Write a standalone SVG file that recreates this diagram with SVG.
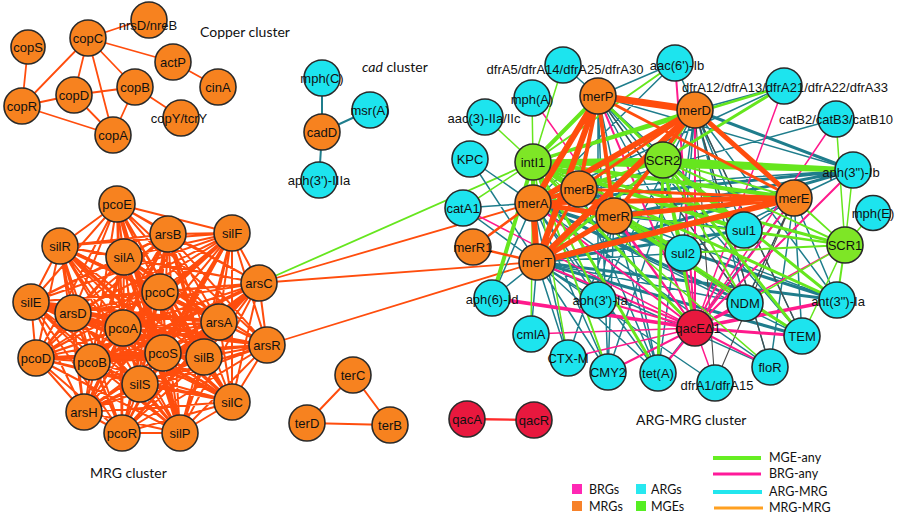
<svg xmlns="http://www.w3.org/2000/svg" width="900" height="518" viewBox="0 0 900 518">
<style>
.bg{fill:#fff}
.n circle{stroke:#2a2a2a;stroke-width:1.6}
.o circle{fill:#f7821f}
.c circle{fill:#1de4ee}
.g circle{fill:#7ee626}
.r circle{fill:#e8183e}
.n text{font-family:"Liberation Sans",Arial,sans-serif;font-size:13px;fill:#111;text-anchor:middle}
.cl{font-family:Lato,"Liberation Sans",sans-serif;font-size:14px;fill:#111}
.lg{font-family:Lato,"Liberation Sans",sans-serif;font-size:12.5px;fill:#111}
.e{fill:none;stroke-linecap:round;stroke-linejoin:round}
.mm{stroke:#ff4d0d}
.am{stroke:#1f7d8c}
.ge{stroke:#66e61e}
.br{stroke:#ff1a8c}
.gy{stroke:#4a4a4a}
</style>
<rect class="bg" width="900" height="518"/>
<g id="connectors">
<!-- copper -->
<path class="e mm" stroke-width="1.8" d="M28 47L22 106M88 38L148 18M88 38L173 62M173 62L218 87M88 38L22 106M88 38L74 95M88 38L113 135M88 38L135 87M74 95L135 87M22 106L74 95M22 106L113 135M74 95L113 135M135 87L113 135M135 87L182 118"/>
<!-- cad -->
<path class="e am" stroke-width="2" d="M322 78L322 132M370 110L322 132M322 132L319 180"/>
<!-- ter / qac -->
<path class="e mm" stroke-width="2" d="M353 375L307 423M353 375L390 425M307 423L390 425"/>
<path class="e" stroke="#ff2a2a" stroke-width="2.4" d="M467 419L534 420"/>
<!-- MRG cluster complete graph -->
<path class="e mm" stroke-width="2" d="M117 204L60 246 117 204 168 234 117 204 232 233 117 204 124 257 117 204 160 292 117 204 259 283 117 204 31 302 117 204 73 313 117 204 123 328 117 204 219 322 117 204 267 345 117 204 36 358 117 204 92 362 117 204 163 353 117 204 204 357 117 204 140 384 117 204 232 402 117 204 84 412 117 204 122 433 117 204 180 433
M60 246L168 234 60 246 232 233 60 246 124 257 60 246 160 292 60 246 259 283 60 246 31 302 60 246 73 313 60 246 123 328 60 246 219 322 60 246 267 345 60 246 36 358 60 246 92 362 60 246 163 353 60 246 204 357 60 246 140 384 60 246 232 402 60 246 84 412 60 246 122 433 60 246 180 433
M168 234L232 233 168 234 124 257 168 234 160 292 168 234 259 283 168 234 31 302 168 234 73 313 168 234 123 328 168 234 219 322 168 234 267 345 168 234 36 358 168 234 92 362 168 234 163 353 168 234 204 357 168 234 140 384 168 234 232 402 168 234 84 412 168 234 122 433 168 234 180 433
M232 233L124 257 232 233 160 292 232 233 259 283 232 233 31 302 232 233 73 313 232 233 123 328 232 233 219 322 232 233 267 345 232 233 36 358 232 233 92 362 232 233 163 353 232 233 204 357 232 233 140 384 232 233 232 402 232 233 84 412 232 233 122 433 232 233 180 433
M124 257L160 292 124 257 259 283 124 257 31 302 124 257 73 313 124 257 123 328 124 257 219 322 124 257 267 345 124 257 36 358 124 257 92 362 124 257 163 353 124 257 204 357 124 257 140 384 124 257 232 402 124 257 84 412 124 257 122 433 124 257 180 433
M160 292L259 283 160 292 31 302 160 292 73 313 160 292 123 328 160 292 219 322 160 292 267 345 160 292 36 358 160 292 92 362 160 292 163 353 160 292 204 357 160 292 140 384 160 292 232 402 160 292 84 412 160 292 122 433 160 292 180 433
M259 283L31 302 259 283 73 313 259 283 123 328 259 283 219 322 259 283 267 345 259 283 36 358 259 283 92 362 259 283 163 353 259 283 204 357 259 283 140 384 259 283 232 402 259 283 84 412 259 283 122 433 259 283 180 433
M31 302L73 313 31 302 123 328 31 302 219 322 31 302 267 345 31 302 36 358 31 302 92 362 31 302 163 353 31 302 204 357 31 302 140 384 31 302 232 402 31 302 84 412 31 302 122 433 31 302 180 433
M73 313L123 328 73 313 219 322 73 313 267 345 73 313 36 358 73 313 92 362 73 313 163 353 73 313 204 357 73 313 140 384 73 313 232 402 73 313 84 412 73 313 122 433 73 313 180 433
M123 328L219 322 123 328 267 345 123 328 36 358 123 328 92 362 123 328 163 353 123 328 204 357 123 328 140 384 123 328 232 402 123 328 84 412 123 328 122 433 123 328 180 433
M219 322L267 345 219 322 36 358 219 322 92 362 219 322 163 353 219 322 204 357 219 322 140 384 219 322 232 402 219 322 84 412 219 322 122 433 219 322 180 433
M267 345L36 358 267 345 92 362 267 345 163 353 267 345 204 357 267 345 140 384 267 345 232 402 267 345 84 412 267 345 122 433 267 345 180 433
M36 358L92 362 36 358 163 353 36 358 204 357 36 358 140 384 36 358 232 402 36 358 84 412 36 358 122 433 36 358 180 433
M92 362L163 353 92 362 204 357 92 362 140 384 92 362 232 402 92 362 84 412 92 362 122 433 92 362 180 433
M163 353L204 357 163 353 140 384 163 353 232 402 163 353 84 412 163 353 122 433 163 353 180 433
M204 357L140 384 204 357 232 402 204 357 84 412 204 357 122 433 204 357 180 433
M140 384L232 402 140 384 84 412 140 384 122 433 140 384 180 433
M232 402L84 412 232 402 122 433 232 402 180 433
M84 412L122 433 84 412 180 433
M122 433L180 433"/>
<path class="e mm" stroke-width="3.6" d="M160 292L219 322M160 292L204 357M123 328L163 353M124 257L219 322M168 234L204 357M117 204L163 353M60 246L219 322M31 302L219 322M36 358L204 357M73 313L232 402M232 233L92 362M259 283L92 362M168 234L84 412M124 257L180 433M267 345L123 328M60 246L232 402M117 204L180 433M232 233L140 384M31 302L163 353M259 283L140 384"/>
<!-- inter-cluster -->
<path class="e mm" stroke-width="1.8" d="M259 283L533 203M259 283L537 262M267 345L537 262"/>
<path class="e ge" stroke-width="1.8" d="M259 283L533 162"/>
<!-- ARG-MRG: teal -->
<path class="e am" stroke-width="1.5" d="M533 203L470 159 533 203 463 208 533 203 675 63 533 203 744 230 533 203 802 336 533 203 492 298 533 203 598 300 533 203 658 373 533 203 608 372 533 203 568 358 533 203 770 367 533 203 784 86 533 203 836 119
M537 262L463 208 537 262 492 298 537 262 598 300 537 262 531 334 537 262 568 358 537 262 608 372 537 262 658 373 537 262 683 253 537 262 745 303 537 262 770 367 537 262 715 383 537 262 470 159
M598 96L675 63 598 96 563 65 598 96 744 230 598 96 683 253 598 96 745 303 598 96 802 336 598 96 658 373 598 96 853 170 598 96 598 300 598 96 608 372
M695 110L675 63 695 110 784 86 695 110 744 230 695 110 683 253 695 110 745 303 695 110 802 336 695 110 658 373 695 110 837 300 695 110 770 367 695 110 608 372 695 110 598 300
M614 216L744 230 614 216 683 253 614 216 745 303 614 216 802 336 614 216 658 373 614 216 608 372 614 216 837 300 614 216 598 300 614 216 568 358
M794 198L744 230 794 198 683 253 794 198 745 303 794 198 802 336 794 198 853 170 794 198 837 300 794 198 658 373 794 198 770 367
M579 189L853 170 579 189 683 253 579 189 658 373 579 189 745 303"/>
<path class="e am" stroke-width="3" d="M533 203L853 170M533 203L683 253M533 203L745 303M533 203L837 300M537 262L744 230M537 262L853 170M537 262L837 300M537 262L802 336M695 110L853 170M614 216L853 170"/>
<path class="e gy" stroke-width="1.1" d="M695 110L770 367M695 110L715 383M794 198L745 303M794 198L715 383M598 96L745 303M695 110L802 336"/>
<!-- BRG-any -->
<path class="e br" stroke-width="1.5" d="M695 328L784 86M695 328L836 119M695 328L532 98M695 328L463 208M695 328L531 334M695 328L568 358M695 328L715 383M695 328L845 245"/>
<path class="e br" stroke-width="2" d="M695 328L598 96 695 328 695 110 695 328 675 63 695 328 853 170 695 328 598 300 695 328 608 372 695 328 658 373 695 328 770 367 695 328 744 230 695 328 533 203 695 328 537 262 695 328 614 216 695 328 794 198"/>
<path class="e br" stroke-width="3" d="M695 328L802 336M695 328L745 303M695 328L683 253"/>
<path class="e br" stroke-width="3.6" d="M695 328L492 298M695 328L837 300"/>
<!-- MGE-any -->
<path class="e ge" stroke-width="1.5" d="M533 162L563 65M533 162L532 98M533 162L485 117M533 162L463 208M533 162L770 367M533 162L531 334M533 162L568 358M845 245L873 213M845 245L802 336M845 245L794 198M845 245L745 303M845 245L836 119M845 245L695 110M845 245L853 170"/>
<path class="e ge" stroke-width="2" d="M533 162L675 63M533 162L745 303M533 162L608 372M533 162L598 300M663 160L695 110M663 160L683 253M663 160L794 198M663 160L845 245M663 160L745 303M845 245L837 300M845 245L744 230M845 245L533 203M845 245L683 253"/>
<path class="e ge" stroke-width="2.6" d="M533 162L784 86"/>
<path class="e ge" stroke-width="3" d="M533 162L695 110M533 162L537 262M533 162L579 189M533 162L845 245M533 162L802 336M533 162L658 373M533 162L695 328M533 162L837 300M663 160L598 96M663 160L533 203M663 160L537 262M663 160L744 230M663 160L802 336M663 160L695 328M663 160L837 300M663 160L658 373M663 160L784 86"/>
<path class="e ge" stroke-width="4" d="M533 162L492 298M533 162L598 96M533 162L533 203M533 162L614 216M533 162L794 198M533 162L744 230M533 162L683 253"/>
<path class="e ge" stroke-width="5" d="M533 162L853 170M533 162L663 160M663 160L853 170"/>
<!-- MRG-MRG in ARG cluster -->
<path class="e mm" stroke-width="2.5" d="M473 247L533 203M473 247L537 262"/>
<path class="e mm" stroke-width="3" d="M695 110L579 189M579 189L614 216M579 189L794 198M598 96L794 198M579 189L537 262"/>
<path class="e mm" stroke-width="4" d="M598 96L579 189M598 96L614 216M695 110L614 216M533 203L579 189"/>
<path class="e mm" stroke-width="5" d="M695 110L794 198M533 203L614 216M533 203L794 198M537 262L614 216M614 216L794 198"/>
<path class="e mm" stroke-width="6" d="M598 96L533 203M598 96L537 262M695 110L533 203M695 110L537 262M533 203L537 262M537 262L794 198"/>
<path class="e mm" stroke-width="7" d="M598 96L695 110"/>
</g>
<!-- Copper cluster -->
<g id="n-copS" class="n o"><circle cx="28" cy="47" r="17"/><text x="28" y="51.5">copS</text></g>
<g id="n-copC" class="n o"><circle cx="88" cy="38" r="18"/><text x="88" y="42.5">copC</text></g>
<g id="n-nrsD" class="n o"><circle cx="149" cy="20" r="18"/><text x="148" y="29.5">nrsD/nreB</text></g>
<g id="n-actP" class="n o"><circle cx="173" cy="62" r="18"/><text x="173" y="66.5">actP</text></g>
<g id="n-cinA" class="n o"><circle cx="218" cy="87" r="18"/><text x="218" y="91.5">cinA</text></g>
<g id="n-copB" class="n o"><circle cx="135" cy="87" r="18"/><text x="135" y="91.5">copB</text></g>
<g id="n-copD" class="n o"><circle cx="74" cy="95" r="18"/><text x="74" y="99.5">copD</text></g>
<g id="n-copR" class="n o"><circle cx="22" cy="106" r="18"/><text x="22" y="110.5">copR</text></g>
<g id="n-copA" class="n o"><circle cx="113" cy="135" r="18"/><text x="113" y="139.5">copA</text></g>
<g id="n-copY" class="n o"><circle cx="181" cy="118" r="18"/><text x="179" y="122.5">copY/tcrY</text></g>
<!-- cad cluster -->
<g id="n-mphC" class="n c"><circle cx="322" cy="78" r="18"/><text x="322" y="82.5">mph(C)</text></g>
<g id="n-msrA" class="n c"><circle cx="370" cy="110" r="18"/><text x="370" y="114.5">msr(A)</text></g>
<g id="n-cadD" class="n o"><circle cx="322" cy="132" r="18"/><text x="322" y="136.5">cadD</text></g>
<g id="n-aph3IIIa" class="n c"><circle cx="319" cy="180" r="18"/><text x="319" y="184.5">aph(3')-IIIa</text></g>
<!-- MRG cluster -->
<g id="n-pcoE" class="n o"><circle cx="117" cy="204" r="18"/><text x="117" y="208.5">pcoE</text></g>
<g id="n-silR" class="n o"><circle cx="60" cy="246" r="18"/><text x="60" y="250.5">silR</text></g>
<g id="n-arsB" class="n o"><circle cx="168" cy="234" r="18"/><text x="168" y="238.5">arsB</text></g>
<g id="n-silF" class="n o"><circle cx="232" cy="233" r="18"/><text x="232" y="237.5">silF</text></g>
<g id="n-silA" class="n o"><circle cx="124" cy="257" r="18"/><text x="124" y="261.5">silA</text></g>
<g id="n-pcoC" class="n o"><circle cx="160" cy="292" r="18"/><text x="160" y="296.5">pcoC</text></g>
<g id="n-arsC" class="n o"><circle cx="259" cy="283" r="18"/><text x="259" y="287.5">arsC</text></g>
<g id="n-silE" class="n o"><circle cx="31" cy="302" r="18"/><text x="31" y="306.5">silE</text></g>
<g id="n-arsD" class="n o"><circle cx="73" cy="313" r="18"/><text x="73" y="317.5">arsD</text></g>
<g id="n-pcoA" class="n o"><circle cx="123" cy="328" r="18"/><text x="123" y="332.5">pcoA</text></g>
<g id="n-arsA" class="n o"><circle cx="219" cy="322" r="18"/><text x="219" y="326.5">arsA</text></g>
<g id="n-arsR" class="n o"><circle cx="267" cy="345" r="18"/><text x="267" y="349.5">arsR</text></g>
<g id="n-pcoD" class="n o"><circle cx="36" cy="358" r="18"/><text x="36" y="362.5">pcoD</text></g>
<g id="n-pcoB" class="n o"><circle cx="92" cy="362" r="18"/><text x="92" y="366.5">pcoB</text></g>
<g id="n-pcoS" class="n o"><circle cx="163" cy="353" r="18"/><text x="163" y="357.5">pcoS</text></g>
<g id="n-silB" class="n o"><circle cx="204" cy="357" r="18"/><text x="204" y="361.5">silB</text></g>
<g id="n-silS" class="n o"><circle cx="140" cy="384" r="18"/><text x="140" y="388.5">silS</text></g>
<g id="n-silC" class="n o"><circle cx="232" cy="402" r="18"/><text x="232" y="406.5">silC</text></g>
<g id="n-arsH" class="n o"><circle cx="84" cy="412" r="18"/><text x="84" y="416.5">arsH</text></g>
<g id="n-pcoR" class="n o"><circle cx="122" cy="433" r="18"/><text x="122" y="437.5">pcoR</text></g>
<g id="n-silP" class="n o"><circle cx="180" cy="433" r="18"/><text x="180" y="437.5">silP</text></g>
<!-- ter / qac -->
<g id="n-terC" class="n o"><circle cx="353" cy="375" r="18"/><text x="353" y="379.5">terC</text></g>
<g id="n-terD" class="n o"><circle cx="307" cy="423" r="18"/><text x="307" y="427.5">terD</text></g>
<g id="n-terB" class="n o"><circle cx="390" cy="425" r="18"/><text x="390" y="429.5">terB</text></g>
<g id="n-qacA" class="n r"><circle cx="467" cy="419" r="18"/><text x="467" y="423.5">qacA</text></g>
<g id="n-qacR" class="n r"><circle cx="534" cy="420" r="18"/><text x="534" y="424.5">qacR</text></g>
<!-- ARG-MRG cluster -->
<g id="n-dfrA5" class="n c"><circle cx="563" cy="65" r="18"/><text x="565" y="73.5">dfrA5/dfrA14/dfrA25/dfrA30</text></g>
<g id="n-aac6" class="n c"><circle cx="675" cy="63" r="18"/><text x="677" y="70">aac(6')-Ib</text></g>
<g id="n-mphA" class="n c"><circle cx="532" cy="98" r="18"/><text x="532" y="104">mph(A)</text></g>
<g id="n-aac3" class="n c"><circle cx="485" cy="117" r="18"/><text x="484" y="122.5">aac(3)-IIa/IIc</text></g>
<g id="n-KPC" class="n c"><circle cx="470" cy="159" r="18"/><text x="470" y="163.5">KPC</text></g>
<g id="n-dfrA12" class="n c"><circle cx="784" cy="86" r="18"/><text x="785" y="91.5">dfrA12/dfrA13/dfrA21/dfrA22/dfrA33</text></g>
<g id="n-catB2" class="n c"><circle cx="836" cy="119" r="18"/><text x="836" y="123.5">catB2/catB3/catB10</text></g>
<g id="n-aph3Ib" class="n c"><circle cx="853" cy="170" r="18"/><text x="851" y="176.5">aph(3")-Ib</text></g>
<g id="n-mphE" class="n c"><circle cx="873" cy="213" r="17.5"/><text x="873" y="217.5">mph(E)</text></g>
<g id="n-catA1" class="n c"><circle cx="463" cy="208" r="18"/><text x="463" y="212.5">catA1</text></g>
<g id="n-intI1" class="n g"><circle cx="533" cy="162" r="18"/><text x="533" y="166.5">intI1</text></g>
<g id="n-SCR2" class="n g"><circle cx="663" cy="160" r="18"/><text x="663" y="164.5">SCR2</text></g>
<g id="n-SCR1" class="n g"><circle cx="845" cy="245" r="18"/><text x="845" y="249.5">SCR1</text></g>
<g id="n-merP" class="n o"><circle cx="598" cy="96" r="18"/><text x="598" y="100.5">merP</text></g>
<g id="n-merD" class="n o"><circle cx="695" cy="110" r="18"/><text x="695" y="114.5">merD</text></g>
<g id="n-merB" class="n o"><circle cx="579" cy="189" r="18"/><text x="579" y="193.5">merB</text></g>
<g id="n-merA" class="n o"><circle cx="533" cy="203" r="18"/><text x="533" y="207.5">merA</text></g>
<g id="n-merR" class="n o"><circle cx="614" cy="216" r="18"/><text x="614" y="220.5">merR</text></g>
<g id="n-merE" class="n o"><circle cx="794" cy="198" r="18"/><text x="794" y="202.5">merE</text></g>
<g id="n-merR1" class="n o"><circle cx="473" cy="247" r="18"/><text x="473" y="251.5">merR1</text></g>
<g id="n-merT" class="n o"><circle cx="537" cy="262" r="18"/><text x="537" y="266.5">merT</text></g>
<g id="n-sul1" class="n c"><circle cx="744" cy="230" r="18"/><text x="744" y="234.5">sul1</text></g>
<g id="n-sul2" class="n c"><circle cx="683" cy="253" r="18"/><text x="683" y="257.5">sul2</text></g>
<g id="n-aph6Id" class="n c"><circle cx="492" cy="298" r="18"/><text x="492" y="304">aph(6)-Id</text></g>
<g id="n-aph3Ia" class="n c"><circle cx="598" cy="300" r="18"/><text x="600" y="304.5">aph(3')-Ia</text></g>
<g id="n-NDM" class="n c"><circle cx="745" cy="303" r="18"/><text x="745" y="307.5">NDM</text></g>
<g id="n-ant3Ia" class="n c"><circle cx="837" cy="300" r="18"/><text x="838" y="306">ant(3")-Ia</text></g>
<g id="n-qacE" class="n r"><circle cx="695" cy="328" r="18"/><text x="698" y="333">qacEΔ1</text></g>
<g id="n-TEM" class="n c"><circle cx="802" cy="336" r="18"/><text x="802" y="340.5">TEM</text></g>
<g id="n-cmlA" class="n c"><circle cx="531" cy="334" r="18"/><text x="531" y="338.5">cmlA</text></g>
<g id="n-CTXM" class="n c"><circle cx="568" cy="358" r="18"/><text x="568" y="362.5">CTX-M</text></g>
<g id="n-CMY2" class="n c"><circle cx="608" cy="372" r="18"/><text x="608" y="376.5">CMY2</text></g>
<g id="n-tetA" class="n c"><circle cx="658" cy="373" r="18"/><text x="658" y="377.5">tet(A)</text></g>
<g id="n-floR" class="n c"><circle cx="770" cy="367" r="18"/><text x="770" y="371.5">floR</text></g>
<g id="n-dfrA1" class="n c"><circle cx="715" cy="383" r="18"/><text x="717" y="390">dfrA1/dfrA15</text></g>
<!-- cluster labels -->
<text class="cl" x="200" y="37">Copper cluster</text>
<text class="cl" x="362" y="72"><tspan font-style="italic">cad</tspan> cluster</text>
<text class="cl" x="90" y="478">MRG cluster</text>
<text class="cl" x="636" y="425">ARG-MRG cluster</text>
<!-- legend -->
<g id="legend">
<rect x="572" y="484" width="10" height="10" fill="#ff28b4"/>
<rect x="572" y="501" width="10" height="10" fill="#f7822a"/>
<rect x="636" y="484" width="10" height="10" fill="#28e8f0"/>
<rect x="636" y="501" width="10" height="10" fill="#55ee22"/>
<text class="lg" x="589" y="494">BRGs</text>
<text class="lg" x="589" y="511">MRGs</text>
<text class="lg" x="651" y="494">ARGs</text>
<text class="lg" x="651" y="511">MGEs</text>
<line x1="713" y1="458" x2="761" y2="458" stroke="#66ee22" stroke-width="4"/>
<line x1="713" y1="474" x2="761" y2="474" stroke="#ff1a9a" stroke-width="3"/>
<line x1="713" y1="492" x2="762" y2="492" stroke="#22e6ee" stroke-width="4"/>
<line x1="714" y1="508" x2="763" y2="508" stroke="#ffa020" stroke-width="3"/>
<text class="lg" x="769" y="462">MGE-any</text>
<text class="lg" x="769" y="478">BRG-any</text>
<text class="lg" x="769" y="496">ARG-MRG</text>
<text class="lg" x="769" y="512">MRG-MRG</text>
</g>
</svg>
